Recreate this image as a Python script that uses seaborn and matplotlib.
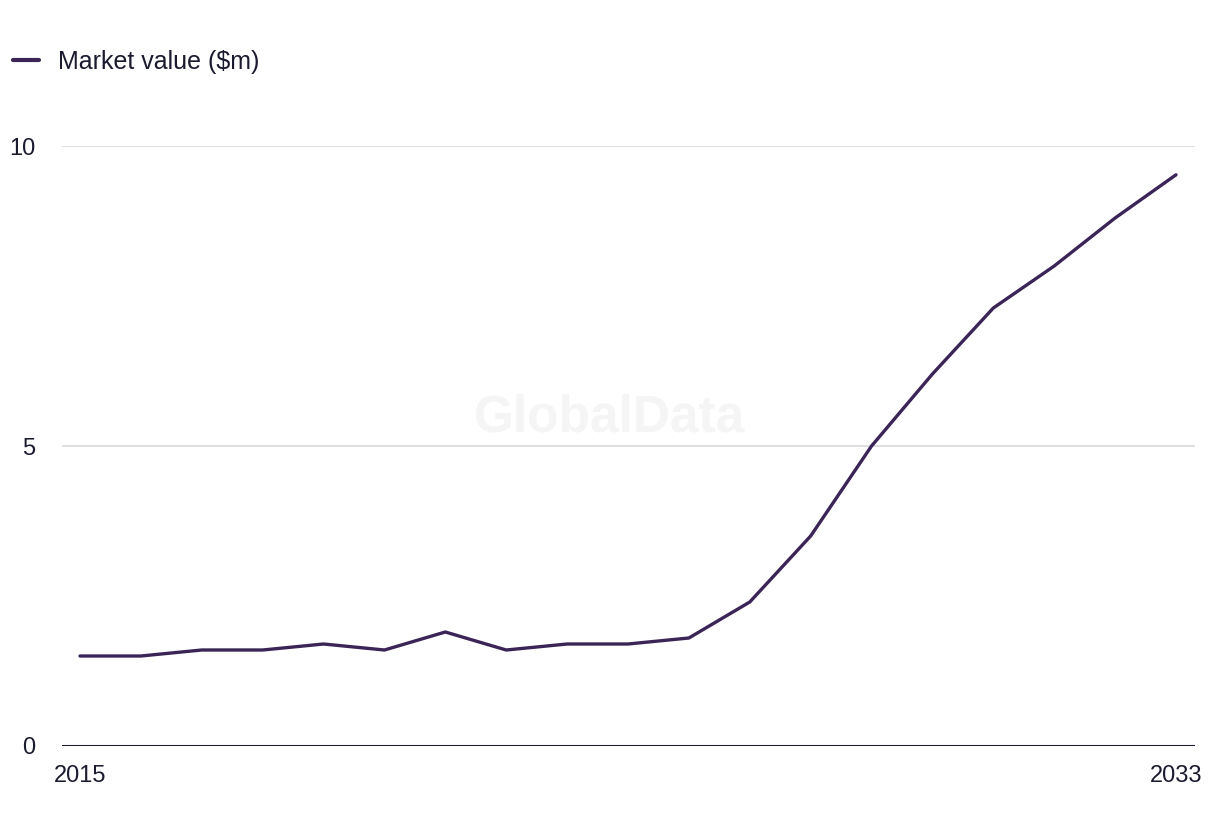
import matplotlib
matplotlib.use("Agg")
import matplotlib.pyplot as plt
import seaborn as sns
import pandas as pd

years = list(range(2015, 2034))
values = [1.5, 1.5, 1.6, 1.6, 1.7, 1.6, 1.9, 1.6, 1.7, 1.7, 1.8,
          2.4, 3.5, 5.0, 6.2, 7.3, 8.0, 8.8, 9.52]
series_name = "Market value ($m)"
y_ticks = [0, 5, 10]
x_tick_labels = [2015, 2033]

df = pd.DataFrame({"Year": years, "Value": values, "Series": series_name})

sns.set_theme(style="white")
plt.rcParams['font.family'] = ['Liberation Sans', 'DejaVu Sans']

text_color = "#1b1b2f"
line_color = "#3a2556"

fig = plt.figure(figsize=(12.2, 8.36), dpi=100)
ax = fig.add_axes([62/1220, (836-746)/836, (1195-62)/1220, 600/836])

# watermark
ax.text((610-62)/1133, (746-418)/600, "GlobalData", transform=ax.transAxes, ha="center", va="center",
        fontsize=37, fontweight="bold", color="#f5f5f5", zorder=0)

sns.lineplot(data=df, x="Year", y="Value", hue="Series", palette=[line_color],
             linewidth=2.4, ax=ax, legend=False, zorder=3)

ax.set_xlim(2015 - 18/60.89, 2033 + 19/60.89)
ax.set_ylim(0, 10)
ax.set_yticks(y_ticks)
ax.set_xticks(x_tick_labels)
ax.set_xticklabels([str(x) for x in x_tick_labels])
for y in y_ticks[1:]:
    ax.axhline(y, color="#d9d9d9", linewidth=1.2, zorder=1)
ax.axhline(0, color=text_color, linewidth=2.2, zorder=2)

for s in ax.spines.values():
    s.set_visible(False)
ax.tick_params(axis="y", length=0, pad=19, labelsize=17, labelcolor=text_color)
ax.tick_params(axis="x", length=0, pad=14, labelsize=17, labelcolor=text_color)
ax.set_xlabel("")
ax.set_ylabel("")
ax.grid(False)

# legend
from matplotlib.lines import Line2D
handle = Line2D([0], [0], color=line_color, linewidth=3)
fig.legend([handle], [series_name], loc="center left", bbox_to_anchor=(4/1220, 1 - 62/836),
           frameon=False, fontsize=18, handlelength=1.05, handletextpad=0.75,
           labelcolor=text_color, borderaxespad=0.0, borderpad=0.35)

fig.savefig("out.png", dpi=100)
